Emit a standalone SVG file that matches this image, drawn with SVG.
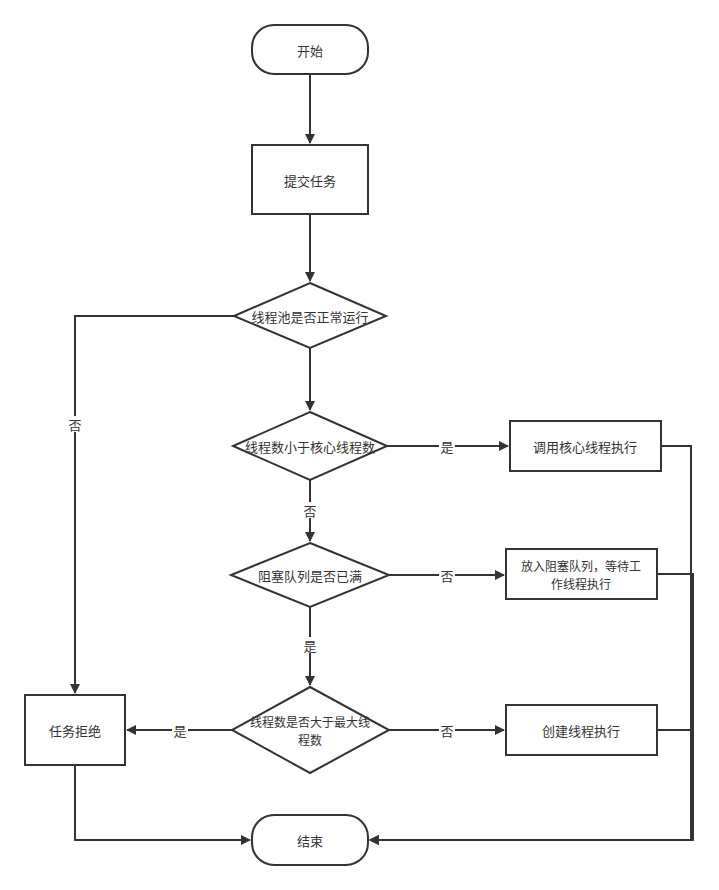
<svg xmlns="http://www.w3.org/2000/svg" width="719" height="890" viewBox="0 0 719 890">
<defs>
<style>
.s{fill:#fff;stroke:#333;stroke-width:2}
.t{font-family:"Noto Sans CJK SC","Liberation Sans",sans-serif;font-size:13px;fill:#333;text-anchor:middle;dominant-baseline:central}
.t2{font-size:12px}
.e{fill:none;stroke:#333;stroke-width:2}
.lb{fill:#fff}
</style>
<marker id="a" viewBox="0 0 10 10" refX="9" refY="5" markerWidth="5" markerHeight="5" orient="auto" markerUnits="strokeWidth"><path d="M0,0 L10,5 L0,10 z" fill="#333"/></marker>
</defs>
<rect width="719" height="890" fill="#fff"/>
<g id="edges">
<path class="e" d="M310,74 V143" marker-end="url(#a)"/>
<path class="e" d="M310,214 V281" marker-end="url(#a)"/>
<path class="e" d="M310,348 V410" marker-end="url(#a)"/>
<path class="e" d="M310,480 V541" marker-end="url(#a)"/>
<path class="e" d="M310,607 V685" marker-end="url(#a)"/>
<path class="e" d="M387,446 H508" marker-end="url(#a)"/>
<path class="e" d="M389,575 H504" marker-end="url(#a)"/>
<path class="e" d="M389,730 H504" marker-end="url(#a)"/>
<path class="e" d="M234,316 H75 V693" marker-end="url(#a)"/>
<path class="e" d="M232,730 H127" marker-end="url(#a)"/>
<path class="e" d="M75,765 V840 H250" marker-end="url(#a)"/>
<path class="e" d="M661,446 H691 V840 H370" marker-end="url(#a)"/>
<path class="e" d="M657,574 H693 V840 H370" marker-end="url(#a)"/>
<path class="e" d="M657,730 H693 V840 H370" marker-end="url(#a)"/>
<rect class="lb" x="67" y="416" width="16" height="16"/><text class="t" x="75" y="424">否</text>
<rect class="lb" x="439" y="438" width="16" height="16"/><text class="t" x="447" y="446">是</text>
<rect class="lb" x="302" y="502" width="16" height="16"/><text class="t" x="310" y="510">否</text>
<rect class="lb" x="439" y="567" width="16" height="16"/><text class="t" x="447" y="575">否</text>
<rect class="lb" x="302" y="637" width="16" height="16"/><text class="t" x="310" y="645">是</text>
<rect class="lb" x="439" y="722" width="16" height="16"/><text class="t" x="447" y="730">否</text>
<rect class="lb" x="172" y="722" width="16" height="16"/><text class="t" x="180" y="730">是</text>
</g>
<g id="start"><rect class="s" x="252" y="25" width="116" height="49" rx="22"/><text class="t" x="310" y="50">开始</text></g>
<g id="submit"><rect class="s" x="252" y="145" width="116" height="69"/><text class="t" x="310" y="180">提交任务</text></g>
<g id="d1"><path class="s" d="M310,283 L386,316 L310,348 L234,316 Z"/><text class="t" x="310" y="316">线程池是否正常运行</text></g>
<g id="d2"><path class="s" d="M310,412 L387,446 L310,480 L233,446 Z"/><text class="t" x="310" y="446">线程数小于核心线程数</text></g>
<g id="d3"><path class="s" d="M310,543 L389,575 L310,607 L231,575 Z"/><text class="t" x="310" y="575">阻塞队列是否已满</text></g>
<g id="d4"><path class="s" d="M310,687 L389,730 L310,773 L232,730 Z"/><text class="t t2" x="310" y="721.5">线程数是否大于最大线<tspan x="310" dy="17.6">程数</tspan></text></g>
<g id="core"><rect class="s" x="510" y="421" width="151" height="50"/><text class="t" x="585" y="446">调用核心线程执行</text></g>
<g id="queue"><rect class="s" x="506" y="549" width="151" height="50"/><text class="t t2" x="581" y="565.5">放入阻塞队列，等待工<tspan x="581" dy="17.6">作线程执行</tspan></text></g>
<g id="create"><rect class="s" x="506" y="705" width="151" height="50"/><text class="t" x="581" y="730">创建线程执行</text></g>
<g id="reject"><rect class="s" x="25" y="695" width="100" height="70"/><text class="t" x="75" y="730">任务拒绝</text></g>
<g id="end"><rect class="s" x="252" y="815" width="116" height="50" rx="22"/><text class="t" x="310" y="840">结束</text></g>
</svg>
